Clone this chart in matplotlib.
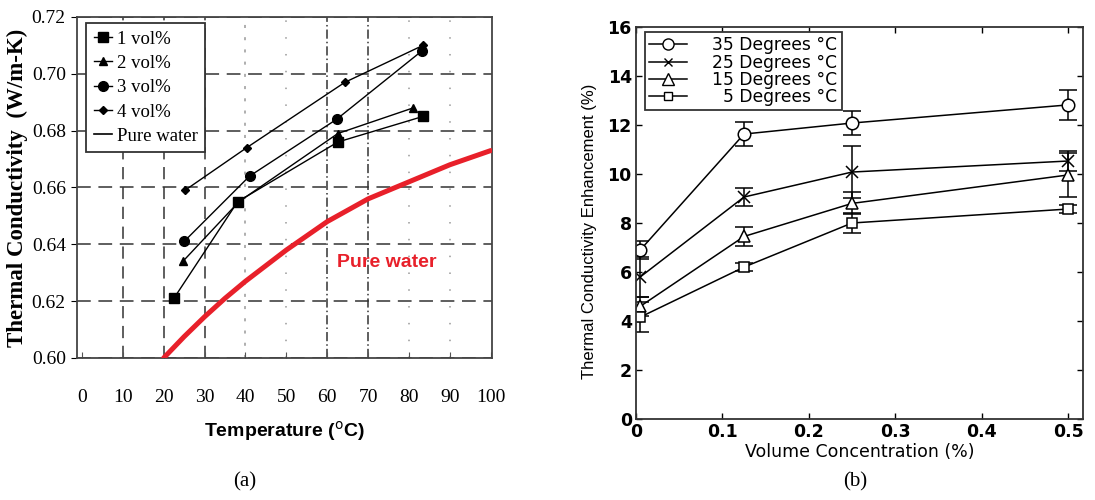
import numpy as np
import matplotlib
matplotlib.use("Agg")
import matplotlib.pyplot as plt
from matplotlib.lines import Line2D

# ---------------- data: panel (a) ----------------
temp_1 = [22.5, 38.1, 62.6, 83.4]
k_1 = [0.621, 0.655, 0.676, 0.685]
temp_2 = [24.7, 38.4, 62.6, 81.0]
k_2 = [0.634, 0.655, 0.679, 0.688]
temp_3 = [25.0, 41.0, 62.3, 83.1]
k_3 = [0.641, 0.664, 0.684, 0.708]
temp_4 = [25.2, 40.3, 64.3, 83.4]
k_4 = [0.659, 0.674, 0.697, 0.710]
water_t = [20, 25, 30, 35, 40, 45, 50, 55, 60, 65, 70, 75, 80, 85, 90, 95, 100]
water_k = [0.600, 0.6075, 0.6145, 0.621, 0.627, 0.6325, 0.638, 0.643, 0.648,
           0.652, 0.656, 0.659, 0.662, 0.665, 0.668, 0.6705, 0.673]
a_xticks = [0, 10, 20, 30, 40, 50, 60, 70, 80, 90, 100]
a_yticks = [0.60, 0.62, 0.64, 0.66, 0.68, 0.70, 0.72]
a_labels = ["1 vol%", "2 vol%", "3 vol%", "4 vol%", "Pure water"]

# ---------------- data: panel (b) ----------------
conc = [0.005, 0.125, 0.25, 0.5]
enh_35 = [6.9, 11.63, 12.08, 12.82]
err_35 = [0.35, 0.5, 0.5, 0.6]
enh_25 = [5.8, 9.06, 10.08, 10.53]
err_25 = [0.8, 0.35, 1.05, 0.4]
enh_15 = [4.6, 7.45, 8.8, 9.96]
err_15 = [0.4, 0.4, 0.45, 0.9]
enh_5 = [4.16, 6.2, 8.0, 8.57]
err_5 = [0.6, 0.15, 0.4, 0.15]
b_labels = ["35 Degrees \u00b0C", "25 Degrees \u00b0C", "15 Degrees \u00b0C", "  5 Degrees \u00b0C"]
b_xticks = [0, 0.1, 0.2, 0.3, 0.4, 0.5]
b_xticklabels = ["0", "0.1", "0.2", "0.3", "0.4", "0.5"]
b_yticks = [0, 2, 4, 6, 8, 10, 12, 14, 16]

fig = plt.figure(figsize=(10.95, 5.0), dpi=100)
serif = "Liberation Serif"
sans = "Liberation Sans"
wide = "DejaVu Sans"

# ================= panel (a) =================
ax = fig.add_axes([0.0703, 0.284, 0.379, 0.682])
ax.set_xlim(-1.2, 100.3)
ax.set_ylim(0.60, 0.72)
ax.set_xticks(a_xticks)
ax.set_yticks(a_yticks)
ax.set_xticklabels([str(t) for t in a_xticks], family=serif, fontsize=14)
ax.set_yticklabels(["%.2f" % t for t in a_yticks], family=serif, fontsize=14)
ax.tick_params(axis="x", direction="in", length=4, pad=22, color="#555")
ax.tick_params(axis="y", direction="out", length=4, pad=4)
for s in ax.spines.values():
    s.set_linewidth(1.3)
    s.set_color("#444")

ax.yaxis.grid(True, color="#333", linestyle=(0, (9, 5)), linewidth=1.1)
ax.xaxis.grid(True, color="#333", linestyle=(0, (8, 5)), linewidth=1.1)
xgl = ax.get_xgridlines()
faint = {4: (0, (2, 6)), 5: (0, (1, 10)), 8: (0, (1, 10)), 9: (0, (1, 10))}
for i, gl in enumerate(xgl):
    if i in (0, 10):
        gl.set_visible(False)
    elif i in faint:
        gl.set_linestyle(faint[i])
        gl.set_color("#999")
    elif i in (6, 7):
        gl.set_linestyle((0, (6, 2, 1, 2)))
ax.set_axisbelow(True)

ax.plot(water_t, water_k, color="#e8202a", linewidth=3.6, solid_capstyle="round", zorder=3)
ax.plot(temp_1, k_1, color="black", lw=1.0, marker="s", ms=7, zorder=4)
ax.plot(temp_2, k_2, color="black", lw=1.0, marker="^", ms=6, zorder=4)
ax.plot(temp_3, k_3, color="black", lw=1.0, marker="o", ms=7, zorder=4)
ax.plot(temp_4, k_4, color="black", lw=1.0, marker="D", ms=4.5, zorder=4)

ax.text(62.5, 0.6335, "Pure water", color="#e8202a", fontsize=14,
        fontweight="bold", family=sans, va="center", ha="left")

handles = [
    Line2D([], [], color="black", lw=1.0, marker="s", ms=7),
    Line2D([], [], color="black", lw=1.0, marker="^", ms=6),
    Line2D([], [], color="black", lw=1.0, marker="o", ms=7),
    Line2D([], [], color="black", lw=1.0, marker="D", ms=4.5),
    Line2D([], [], color="black", lw=1.2),
]
leg = ax.legend(handles, a_labels, loc="upper left", bbox_to_anchor=(0.022, 0.982),
                borderaxespad=0,
                prop={"family": serif, "size": 13.5}, handlelength=1.0,
                handletextpad=0.25, labelspacing=0.38, borderpad=0.4,
                fancybox=False, framealpha=1, edgecolor="#333")
leg.get_frame().set_linewidth(1.3)

ax.set_ylabel("Thermal Conductivity  (W/m-K)", family=serif, fontsize=16.5,
              fontweight="bold", labelpad=3)
ax.set_xlabel("Temperature ($^{\\mathrm{o}}$C)", family=sans, fontsize=14,
              fontweight="bold", labelpad=10)
fig.text(0.2237, 0.036, "(a)", family=serif, fontsize=15, ha="center", va="center")

# ================= panel (b) =================
bx = fig.add_axes([0.5808, 0.162, 0.408, 0.784])
bx.set_xlim(0, 0.517)
bx.set_ylim(0, 16)
bx.set_xticks(b_xticks)
bx.set_xticklabels(b_xticklabels, family=wide, fontsize=12.5, fontweight="bold")
bx.set_yticks(b_yticks)
bx.set_yticklabels([str(t) for t in b_yticks], family=wide, fontsize=12.5, fontweight="bold")
bx.tick_params(direction="in", length=4, top=True, right=True, pad=3, width=1)
for s in bx.spines.values():
    s.set_linewidth(1.3)
    s.set_color("#333")

ekw = dict(color="black", lw=1.1, capsize=6.5, capthick=1.1, elinewidth=1.1,
           mfc="white", mec="black", mew=1.1)
bx.errorbar(conc, enh_35, yerr=err_35, marker="o", ms=9, **ekw)
bx.errorbar(conc, enh_25, yerr=err_25, marker="x", ms=8, **ekw)
bx.errorbar(conc, enh_15, yerr=err_15, marker="^", ms=9, **ekw)
bx.errorbar(conc, enh_5, yerr=err_5, marker="s", ms=7, **ekw)

bh = [
    Line2D([], [], color="black", lw=1.1, marker="o", ms=8, mfc="white"),
    Line2D([], [], color="black", lw=1.1, marker="x", ms=6, mfc="white"),
    Line2D([], [], color="black", lw=1.1, marker="^", ms=8, mfc="white"),
    Line2D([], [], color="black", lw=1.1, marker="s", ms=6, mfc="white"),
]
leg2 = bx.legend(bh, b_labels, loc="upper left", bbox_to_anchor=(0.02, 0.987),
                 borderaxespad=0,
                 prop={"family": wide, "size": 12.3}, handlelength=2.2,
                 handletextpad=1.5, labelspacing=-0.05, borderpad=0.25,
                 fancybox=False, framealpha=1, edgecolor="#333")
leg2.get_frame().set_linewidth(1.3)

bx.set_ylabel("Thermal Conductivity Enhancement (%)",
              family=sans, fontsize=12, labelpad=8)
bx.yaxis.set_label_coords(-0.088, 0.48)
bx.set_xlabel("Volume Concentration (%)", family=wide, fontsize=12.5, labelpad=1)
fig.text(0.781, 0.036, "(b)", family=serif, fontsize=15, ha="center", va="center")

fig.savefig("out.png", dpi=100)
